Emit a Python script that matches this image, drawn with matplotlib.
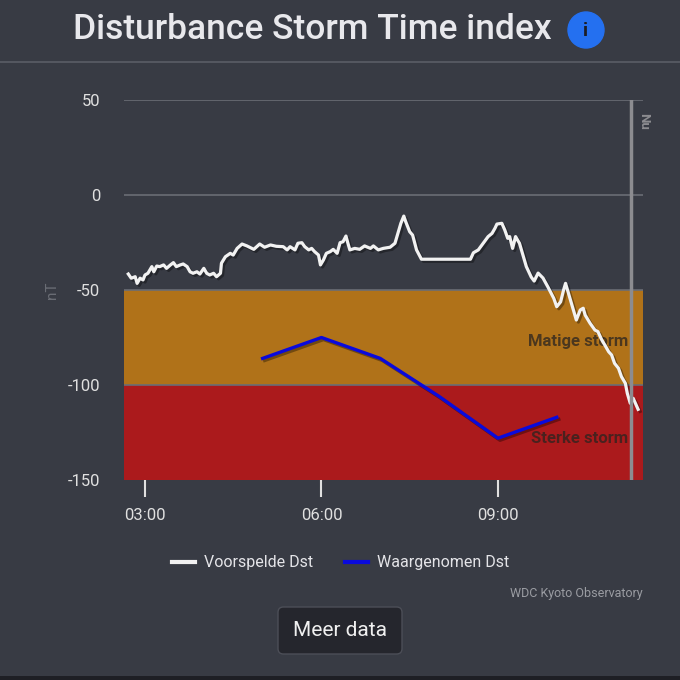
import matplotlib
matplotlib.use("Agg")
import matplotlib.pyplot as plt
import matplotlib.patheffects as pe
from matplotlib.patches import FancyBboxPatch, Circle

plt.rcParams['font.family'] = ['Roboto', 'DejaVu Sans']
plt.rcParams['axes.unicode_minus'] = False

# data: minutes after midnight, Dst in nT
pred_min = [163, 166, 170, 172, 175, 178, 180, 183, 187, 189, 192, 195, 199, 202,
            206, 209, 212, 216, 219, 223, 226, 229, 233, 236, 240, 243, 246, 250,
            253, 257, 258, 262, 267, 270, 274, 279, 284, 291, 297, 302, 308, 314,
            321, 325, 328, 333, 336, 340, 343, 347, 350, 353, 357, 359, 362, 365,
            369, 372, 376, 379, 382, 385, 387, 389, 394, 399, 404, 410, 413, 418,
            423, 430, 435, 438, 441, 444, 446, 450, 453, 457, 462, 512, 515, 520,
            525, 530, 534, 537, 539, 544, 547, 550, 552, 555, 558, 562, 566, 569,
            574, 577, 581, 586, 591, 597, 600, 604, 607, 609, 611, 614, 618, 620,
            624, 627, 629, 634, 639, 642, 646, 649, 653, 656, 659, 663, 666, 670,
            672, 675, 678, 681, 683]
pred_dst = [-41.6, -43.8, -43.0, -46.5, -43.8, -44.7, -42.1, -41.2, -37.7, -40.4,
            -37.4, -37.7, -36.8, -38.6, -36.8, -35.6, -37.7, -36.8, -36.3, -37.7,
            -40.4, -41.2, -40.4, -41.6, -38.6, -41.2, -42.1, -41.2, -43.0, -41.2,
            -35.9, -32.5, -30.7, -31.6, -28.1, -25.8, -26.8, -28.6, -25.8, -27.5,
            -26.3, -27.0, -27.2, -28.9, -27.2, -28.9, -25.4, -25.1, -27.2, -28.9,
            -28.1, -29.8, -31.6, -36.8, -34.2, -30.7, -29.8, -28.6, -30.7, -25.1,
            -24.6, -21.6, -25.4, -28.9, -28.1, -28.6, -26.8, -28.1, -26.8, -28.9,
            -28.1, -27.5, -25.4, -20.2, -14.9, -11.1, -14.1, -19.3, -21.1, -28.9,
            -33.8, -33.8, -30.4, -28.9, -25.4, -21.9, -20.2, -17.5, -15.3, -14.9,
            -18.4, -22.8, -21.9, -28.1, -21.9, -25.4, -32.5, -37.7, -43.2, -45.3,
            -41.1, -43.7, -48.4, -54.4, -58.8, -56.2, -50.0, -46.5, -50.0, -55.3,
            -62.3, -65.8, -60.5, -59.6, -63.2, -67.5, -71.1, -71.9, -76.3, -78.9,
            -82.5, -84.2, -88.6, -91.2, -95.6, -99.1, -104.4, -109.6, -107.0,
            -110.5, -112.8]

obs_min = [300, 360, 420, 480, 540, 600]
obs_dst = [-86, -75, -86, -106, -128, -117]

now_min = 676
tick_min = [180, 360, 540]
tick_labels = ["03:00", "06:00", "09:00"]
bands = [(-100, -50, "#b07219", "Matige storm", -77),
         (-150, -100, "#ab1a1c", "Sterke storm", -128)]

bg = "#383b44"
fig = plt.figure(figsize=(6.8, 6.8), dpi=100, facecolor=bg)

# header
fig.text(0.459, 0.956, "Disturbance Storm Time index", ha='center', va='center',
         fontsize=25.5, fontweight='medium', color='#e8e8ec')
fig.add_artist(plt.Line2D([0, 1], [1 - 62 / 680, 1 - 62 / 680], color='#5a5d66', lw=1.2))
icon = Circle((586 / 680, 1 - 30 / 680), 18 / 680, transform=fig.transFigure,
              color='#2470f0')
fig.add_artist(icon)
fig.text(586 / 680, 1 - 31 / 680, "i", ha='center', va='center', fontsize=14,
         fontweight='bold', color='#1b1d24')

ax = fig.add_axes([124 / 680, 1 - 480 / 680, 519 / 680, 380 / 680])
ax.set_facecolor(bg)
ax.set_xlim(158.6, 688)
ax.set_ylim(-150, 50)

for lo, hi, col, name, ytxt in bands:
    ax.axhspan(lo, hi, color=col, lw=0, zorder=0)
    ax.text(now_min - 3, ytxt, name, ha='right', va='center', fontsize=12,
            fontweight='bold', color='#2a2420', alpha=0.75, zorder=3)

for yv in [50, 0, -50, -100]:
    ax.axhline(yv, color='#6a6d75', lw=1.2, zorder=1)

shadow = [pe.SimpleLineShadow(offset=(1.5, -1.5), shadow_color='black', alpha=0.35),
          pe.Normal()]
ax.plot(pred_min, pred_dst, color='#f2f2f2', lw=2.3, zorder=4, path_effects=shadow,
        label="Voorspelde Dst")
ax.plot(obs_min, obs_dst, color='#0a0adc', lw=2.4, zorder=4, path_effects=shadow,
        label="Waargenomen Dst")

ax.axvline(now_min, color='#8c8c90', lw=2.5, zorder=5)
ax.text(now_min + 6, 43, "Nu", rotation=-90, ha='left', va='top', fontsize=9.5,
        fontweight='bold', color='#8c8c90')

ax.set_yticks([50, 0, -50, -100, -150])
ax.set_xticks(tick_min)
ax.set_xticklabels(tick_labels)
ax.tick_params(axis='y', length=0, pad=17, labelsize=12, labelcolor='#e0e0e0')
ax.tick_params(axis='x', length=12, width=1.5, color='#e0e0e0', pad=8,
               labelsize=12, labelcolor='#e0e0e0', direction='out')
for s in ax.spines.values():
    s.set_visible(False)
ax.set_ylabel("nT", color='#6a6d75', fontsize=11, labelpad=6)

leg = ax.legend(loc='center', bbox_to_anchor=(341 / 680, 1 - 563 / 680),
                bbox_transform=fig.transFigure, ncol=2, frameon=False,
                fontsize=11.5, handlelength=1.4, handletextpad=0.6,
                columnspacing=2.0, labelcolor='#e4e4e8')
for h in leg.get_lines():
    h.set_linewidth(3)
    h.set_path_effects([])

fig.text(643 / 680, 1 - 594 / 680, "WDC Kyoto Observatory", ha='right', va='center',
         fontsize=9, color='#9a9ca2')

btn = FancyBboxPatch((278 / 680, 1 - 654 / 680), 124 / 680, 47 / 680,
                     boxstyle="round,pad=0,rounding_size=0.008",
                     transform=fig.transFigure, facecolor='#25262d',
                     edgecolor='#4c4e57', lw=1)
fig.add_artist(btn)
fig.text(340 / 680, 1 - 630 / 680, "Meer data", ha='center', va='center',
         fontsize=15, color='#f0f0f0')

fig.add_artist(plt.Rectangle((0, 0), 1, 4 / 680, transform=fig.transFigure,
                             color='#1e1f25', lw=0))

fig.savefig("out.png", dpi=100, facecolor=bg)
